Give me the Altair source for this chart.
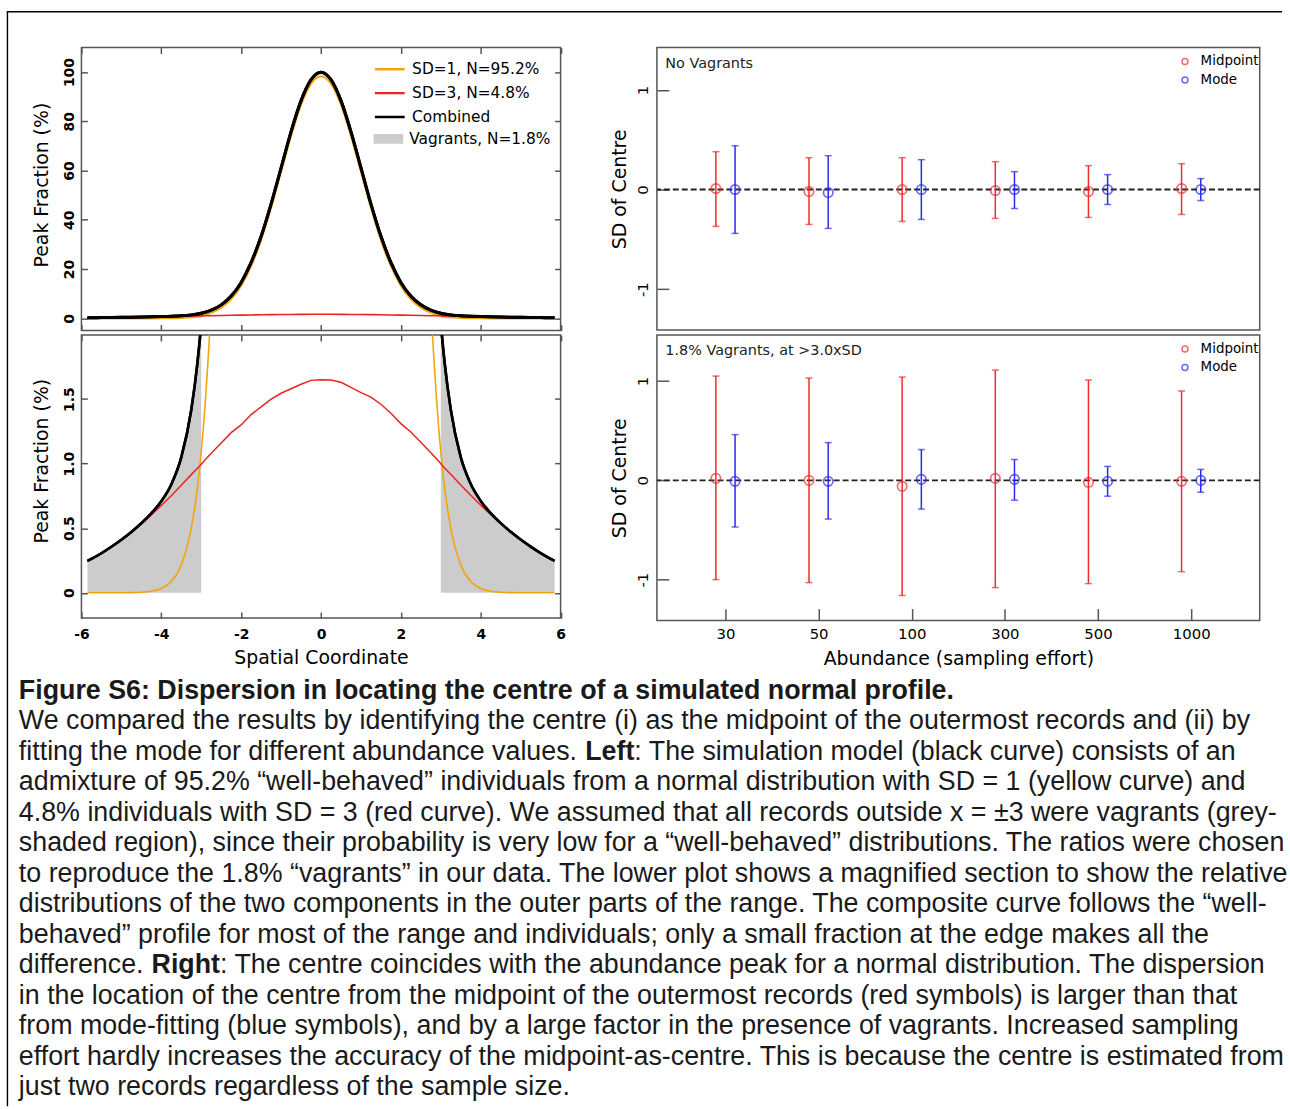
import json
import altair as alt
import pandas as pd

# ------------------------------------------------------------------ data
x_coord = [-5.85, -5.75, -5.5, -5.25, -5.0, -4.75, -4.5, -4.25, -4.0, -3.75, -3.5, -3.25, -3.1,
           -3.0, -2.9, -2.75, -2.5, -2.25, -2.0, -1.75, -1.5, -1.25, -1.0, -0.75, -0.5, -0.25,
           0.0,
           0.25, 0.5, 0.75, 1.0, 1.25, 1.5, 1.75, 2.0, 2.25, 2.5, 2.75, 2.9, 3.0,
           3.1, 3.25, 3.5, 3.75, 4.0, 4.25, 4.5, 4.75, 5.0, 5.25, 5.5, 5.75, 5.85]
sd1_curve = [0, 0, 0, 0, 0.0004, 0.0012, 0.004, 0.012, 0.033, 0.087, 0.215, 0.50, 0.805,
             1.09, 1.47, 2.24, 4.32, 7.82, 13.3, 21.3, 31.9, 45.0, 59.6, 74.2, 86.8, 95.3,
             98.3,
             95.3, 86.8, 74.2, 59.6, 45.0, 31.9, 21.3, 13.3, 7.82, 4.32, 2.24, 1.47, 1.09,
             0.805, 0.50, 0.215, 0.087, 0.033, 0.012, 0.004, 0.0012, 0.0004, 0, 0, 0, 0]
sd3_curve = [0.246, 0.262, 0.306, 0.356, 0.411, 0.470, 0.534, 0.603, 0.676, 0.752, 0.833, 0.915, 0.962,
             0.995, 1.03, 1.08, 1.16, 1.24, 1.30, 1.38, 1.44, 1.50, 1.545, 1.58, 1.615, 1.645,
             1.65,
             1.648, 1.63, 1.59, 1.55, 1.515, 1.46, 1.39, 1.31, 1.245, 1.165, 1.085, 1.035, 1.0,
             0.965, 0.918, 0.835, 0.755, 0.678, 0.604, 0.535, 0.471, 0.412, 0.357, 0.307, 0.263, 0.247]
combined_curve = [0.246, 0.262, 0.306, 0.356, 0.411, 0.471, 0.538, 0.615, 0.709, 0.839, 1.048, 1.415, 1.767,
                  2.085, 2.50, 3.32, 5.48, 9.06, 14.6, 22.7, 33.3, 46.5, 61.1, 75.8, 88.4, 96.9,
                  99.95,
                  96.9, 88.4, 75.8, 61.2, 46.5, 33.4, 22.7, 14.6, 9.07, 5.49, 3.33, 2.50, 2.09,
                  1.77, 1.418, 1.05, 0.842, 0.711, 0.616, 0.539, 0.472, 0.412, 0.357, 0.307, 0.263, 0.247]
curve_labels = ["SD=1, N=95.2%", "SD=3, N=4.8%", "Combined"]
vagrant_label = "Vagrants, N=1.8%"
vagrant_cut = 3.0

abundance = ["30", "50", "100", "300", "500", "1000"]
series_names = ["Midpoint", "Mode"]
panel_titles = ["No Vagrants", "1.8% Vagrants, at >3.0xSD"]

nv_mid_centre = [0.01, -0.02, 0.0, -0.01, -0.02, 0.01]
nv_mid_hi = [0.38, 0.32, 0.32, 0.28, 0.24, 0.26]
nv_mid_lo = [-0.37, -0.35, -0.32, -0.29, -0.28, -0.25]
nv_mode_centre = [0.0, -0.03, 0.0, 0.0, 0.0, 0.0]
nv_mode_hi = [0.44, 0.34, 0.30, 0.18, 0.15, 0.11]
nv_mode_lo = [-0.44, -0.39, -0.30, -0.19, -0.15, -0.11]

vg_mid_centre = [0.02, 0.0, -0.06, 0.02, -0.02, -0.01]
vg_mid_hi = [1.05, 1.03, 1.04, 1.11, 1.01, 0.90]
vg_mid_lo = [-1.0, -1.03, -1.16, -1.08, -1.04, -0.92]
vg_mode_centre = [-0.01, -0.01, 0.01, 0.01, -0.01, 0.0]
vg_mode_hi = [0.46, 0.38, 0.31, 0.21, 0.14, 0.11]
vg_mode_lo = [-0.47, -0.39, -0.29, -0.20, -0.16, -0.12]

caption_segments = [
    [("Figure S6: Dispersion in locating the centre of a simulated normal profile.", True)],
    [("We compared the results by identifying the centre (i) as the midpoint of the outermost records and (ii) by", False)],
    [("fitting the mode for different abundance values. ", False), ("Left", True),
     (": The simulation model (black curve) consists of an", False)],
    [("admixture of 95.2% \u201cwell-behaved\u201d individuals from a normal distribution with SD = 1 (yellow curve) and", False)],
    [("4.8% individuals with SD = 3 (red curve). We assumed that all records outside x = \u00b13 were vagrants (grey-", False)],
    [("shaded region), since their probability is very low for a \u201cwell-behaved\u201d distributions. The ratios were chosen", False)],
    [("to reproduce the 1.8% \u201cvagrants\u201d in our data. The lower plot shows a magnified section to show the relative", False)],
    [("distributions of the two components in the outer parts of the range. The composite curve follows the \u201cwell-", False)],
    [("behaved\u201d profile for most of the range and individuals; only a small fraction at the edge makes all the", False)],
    [("difference. ", False), ("Right", True),
     (": The centre coincides with the abundance peak for a normal distribution. The dispersion", False)],
    [("in the location of the centre from the midpoint of the outermost records (red symbols) is larger than that", False)],
    [("from mode-fitting (blue symbols), and by a large factor in the presence of vagrants. Increased sampling", False)],
    [("effort hardly increases the accuracy of the midpoint-as-centre. This is because the centre is estimated from", False)],
    [("just two records regardless of the sample size.", False)],
]

# ------------------------------------------------------------------ layout / style
FIG_W, FIG_H = 1290, 1109
ORIGIN_X, ORIGIN_Y = 81, 43          # top-left corner of the upper-left plot box
W_LEFT, W_RIGHT = 482.5, 607
H_LT, H_LB = 285, 285
H_RT, H_RB = 284.5, 287.5
GAP_V, GAP_H = 4.5, 96.5
CAP_LEFT = 18
CAP_FIRST, CAP_STEP = 699, 30.7
INLINE_X = {(2, 1): 588.3, (2, 2): 637.8, (9, 1): 151.6, (9, 2): 220.6}
DODGE = 0.103

FONT = "DejaVu Sans"
CAP_FONT = "Liberation Sans"
BOX = "#555555"
YELLOW, RED, BLACK, GREY = "#F2A30F", "#EE2222", "#000000", "#CCCCCC"
MID_RED, MODE_BLUE = "#F22A2A", "#2A2AF2"
TXT = "#1a1a1a"


def make_axis(orient, values, tick, labels=True, title="", label_size=15, label_pad=5, **extra):
    kw = dict(orient=orient, values=values, offset=-tick, tickSize=tick, tickWidth=1.5,
              tickColor=BOX, domain=False, grid=False, labels=labels, title=title,
              labelFont=FONT, labelFontSize=label_size, labelColor="black", labelPadding=label_pad,
              labelFlush=False, labelOverlap=False,
              titleFont=FONT, titleFontSize=19, titleFontWeight="normal", titleColor="black")
    kw.update({k: v for k, v in extra.items() if v is not None})
    return alt.Axis(**kw)


X_LABEL_EXPR = "datum.value < 0 ? '-' + (-datum.value) : '' + datum.value"

# ------------------------------------------------------------------ left panels
curves = pd.DataFrame({"x": x_coord, "sd1": sd1_curve, "sd3": sd3_curve, "comb": combined_curve})
vag = curves[curves["x"].abs() >= vagrant_cut].copy()
vag["side"] = ["L" if v < 0 else "R" for v in vag["x"]]
vag["label"] = vagrant_label
vag = vag.rename(columns={"comb": "y"})[["x", "y", "side", "label"]]


def series_df(col, label):
    return pd.DataFrame({"x": curves["x"], "y": curves[col], "series": label})


def left_panel(ydom, yvals, ylabel_expr, xlabels, legend, title_y, widths):
    xsc = alt.Scale(domain=[-6, 6], nice=False, zero=False)
    ysc = alt.Scale(domain=ydom, nice=False, zero=False)
    xvals = [-6, -4, -2, 0, 2, 4, 6]
    ax_bottom = make_axis("bottom", xvals, 6, labels=xlabels,
                          title="Spatial Coordinate" if xlabels else "",
                          labelExpr=X_LABEL_EXPR, label_pad=10, label_size=14,
                          labelFontWeight="bold", labelBaseline="top",
                          titleY=51.8, titleBaseline="alphabetic")
    ax_left = make_axis("left", yvals, 6, title="Peak Fraction (%)", labelExpr=ylabel_expr,
                        label_pad=5, label_size=14, labelFontWeight="bold",
                        labelAngle=270, labelAlign="center", labelBaseline="bottom",
                        titleX=-36, titleY=title_y, titleAngle=270, titleAlign="center",
                        titleBaseline="bottom")
    ax_top = make_axis("top", xvals, 6, labels=False)
    ax_right = make_axis("right", yvals, 6, labels=False)

    cscale = alt.Scale(domain=curve_labels, range=[YELLOW, RED, BLACK])
    fscale = alt.Scale(domain=[vagrant_label], range=[GREY])
    if legend:
        line_leg = alt.Legend(orient="none", legendX=294, legendY=13.8, title=None,
                              symbolType="stroke", symbolSize=900, symbolStrokeWidth=2.5,
                              labelFont=FONT, labelFontSize=15.5, labelColor="black",
                              labelOffset=6, clipHeight=16, rowPadding=7.1, padding=0)
        fill_leg = alt.Legend(orient="none", legendX=294, legendY=84, title=None,
                              symbolType="M-1,-0.33H1V0.33H-1Z", symbolSize=900,
                              symbolStrokeWidth=0, labelFont=FONT, labelFontSize=15.5,
                              labelColor="black", labelOffset=6, clipHeight=16, padding=0)
    else:
        line_leg = None
        fill_leg = None

    area = alt.Chart(vag).mark_area(clip=True, interpolate="monotone").encode(
        x=alt.X("x:Q", scale=xsc, axis=ax_bottom),
        y=alt.Y("y:Q", scale=ysc, axis=ax_left),
        y2=alt.datum(0),
        detail="side:N",
        fill=alt.Fill("label:N", scale=fscale, legend=fill_leg),
    )

    def line(col, label, width, interp, axes=None):
        xa, ya = (axes if axes else (None, None))
        return alt.Chart(series_df(col, label)).mark_line(
            clip=True, interpolate=interp, strokeWidth=width).encode(
            x=alt.X("x:Q", scale=xsc, axis=xa),
            y=alt.Y("y:Q", scale=ysc, axis=ya),
            color=alt.Color("series:N", scale=cscale, legend=line_leg),
        )

    return [
        area,
        line("sd1", curve_labels[0], widths[0], "monotone"),
        line("sd3", curve_labels[1], widths[1], "linear"),
        line("comb", curve_labels[2], widths[2], "monotone"),
        line("comb", curve_labels[2], widths[2], "monotone", axes=(ax_top, ax_right)),
    ]


# ------------------------------------------------------------------ caption + frame (overlaid,
# positioned relative to the upper-left plot box, which is the layout origin)
one = pd.DataFrame({"a": [0]})
overlay = []
overlay.append(alt.Chart(one).mark_rect(opacity=0).encode(
    x=alt.value(-ORIGIN_X), x2=alt.value(FIG_W - ORIGIN_X),
    y=alt.value(-ORIGIN_Y), y2=alt.value(FIG_H - ORIGIN_Y)))
overlay.append(alt.Chart(one).mark_rule(color="black", strokeWidth=1.4).encode(
    x=alt.value(6.5 - ORIGIN_X), y=alt.value(7 - ORIGIN_Y), y2=alt.value(FIG_H - ORIGIN_Y)))
overlay.append(alt.Chart(one).mark_rule(color="black", strokeWidth=1.4).encode(
    x=alt.value(5.8 - ORIGIN_X), x2=alt.value(FIG_W - ORIGIN_X), y=alt.value(7 - ORIGIN_Y)))
for li, segs in enumerate(caption_segments):
    for si, (txt, bold) in enumerate(segs):
        xpos = INLINE_X.get((li, si), CAP_LEFT)
        ypos = CAP_FIRST + CAP_STEP * li
        overlay.append(alt.Chart(pd.DataFrame({"t": [txt]})).mark_text(
            align="left", baseline="alphabetic", font=CAP_FONT, fontSize=27, color=TXT,
            fontWeight="bold" if bold else "normal").encode(
            x=alt.value(xpos - ORIGIN_X), y=alt.value(ypos - ORIGIN_Y), text="t:N"))

lt = alt.layer(*left_panel([-4.96, 109.96], [0, 20, 40, 60, 80, 100], None, False, True, 138,
                           (2.2, 1.6, 3.0)), *overlay).resolve_axis(
    x="independent", y="independent").properties(width=W_LEFT, height=H_LT)
lb = alt.layer(*left_panel([-0.196, 1.996], [0, 0.5, 1.0, 1.5],
                           "datum.value == 0 ? '0' : format(datum.value, '.1f')", True, False,
                           126.5, (1.6, 1.5, 2.6))).resolve_axis(
    x="independent", y="independent").properties(width=W_LEFT, height=H_LB)

# ------------------------------------------------------------------ right panels


def right_rows(mid_c, mid_lo, mid_hi, mode_c, mode_lo, mode_hi):
    rows = []
    for i, a in enumerate(abundance):
        rows.append(dict(abund=a, pos=i + 1 - DODGE, series=series_names[0],
                         c=mid_c[i], lo=mid_lo[i], hi=mid_hi[i]))
        rows.append(dict(abund=a, pos=i + 1 + DODGE, series=series_names[1],
                         c=mode_c[i], lo=mode_lo[i], hi=mode_hi[i]))
    return pd.DataFrame(rows)


def right_panel(df, ydom, height, title_text, show_x):
    xsc = alt.Scale(domain=[0.264, 6.736], nice=False, zero=False)
    ysc = alt.Scale(domain=ydom, nice=False, zero=False)
    cscale = alt.Scale(domain=series_names, range=[MID_RED, MODE_BLUE])
    ax_left = make_axis("left", [-1, 0, 1], 12, title="SD of Centre", labelExpr=X_LABEL_EXPR,
                        label_pad=6, label_size=15, labelAngle=270, labelAlign="center",
                        labelBaseline="bottom", titleX=-40, titleAngle=270, titleAlign="center",
                        titleBaseline="bottom")
    if show_x:
        ax_bottom = make_axis("bottom", list(range(1, len(abundance) + 1)), 12,
                              title="Abundance (sampling effort)",
                              labelExpr=json.dumps(abundance) + "[datum.value - 1]",
                              label_pad=5.8, label_size=15, labelBaseline="top",
                              titleY=55.8, titleBaseline="alphabetic")
    else:
        ax_bottom = None
    leg = alt.Legend(orient="none", legendX=525, legendY=7.5, title=None, symbolType="circle",
                     symbolSize=36, symbolStrokeWidth=1.5, labelFont=FONT, labelFontSize=13.5,
                     labelColor="black", labelOffset=9, clipHeight=13, rowPadding=4.6, padding=0)

    zero = alt.Chart(pd.DataFrame({"z": [0]})).mark_rule(
        strokeDash=[6, 3], color="#222222", strokeWidth=1.9).encode(
        y=alt.Y("z:Q", scale=ysc, axis=ax_left))
    base = alt.Chart(df)
    bars = base.mark_rule(strokeWidth=1.5).encode(
        x=alt.X("pos:Q", scale=xsc, axis=ax_bottom),
        y=alt.Y("lo:Q", scale=ysc, axis=None), y2="hi:Q",
        color=alt.Color("series:N", scale=cscale, legend=None))
    caps_lo = base.mark_tick(orient="horizontal", size=7, thickness=1.5).encode(
        x=alt.X("pos:Q", scale=xsc, axis=None), y=alt.Y("lo:Q", scale=ysc, axis=None),
        color=alt.Color("series:N", scale=cscale, legend=None))
    caps_hi = base.mark_tick(orient="horizontal", size=7, thickness=1.5).encode(
        x=alt.X("pos:Q", scale=xsc, axis=None), y=alt.Y("hi:Q", scale=ysc, axis=None),
        color=alt.Color("series:N", scale=cscale, legend=None))
    pts = base.mark_point(filled=False, size=90, strokeWidth=1.7).encode(
        x=alt.X("pos:Q", scale=xsc, axis=None), y=alt.Y("c:Q", scale=ysc, axis=None),
        color=alt.Color("series:N", scale=cscale, legend=leg))
    label = alt.Chart(pd.DataFrame({"t": [title_text]})).mark_text(
        align="left", baseline="alphabetic", font=FONT, fontSize=14.5, color="#222222").encode(
        x=alt.value(8.5), y=alt.value(20.5), text="t:N")
    return alt.layer(zero, bars, caps_lo, caps_hi, pts, label).resolve_axis(
        x="independent", y="independent").resolve_legend(color="independent").properties(
        width=W_RIGHT, height=height)


rt = right_panel(right_rows(nv_mid_centre, nv_mid_lo, nv_mid_hi, nv_mode_centre, nv_mode_lo, nv_mode_hi),
                 [-1.411, 1.426], H_RT, panel_titles[0], False)
rb = right_panel(right_rows(vg_mid_centre, vg_mid_lo, vg_mid_hi, vg_mode_centre, vg_mode_lo, vg_mode_hi),
                 [-1.412, 1.463], H_RB, panel_titles[1], True)

# ------------------------------------------------------------------ assemble
chart = alt.concat(lt, rt, lb, rb, columns=2, bounds="flush",
                   spacing={"row": GAP_V, "column": GAP_H}).resolve_scale(
    color="independent", fill="independent").properties(
    padding=0, background="white").configure(font=FONT).configure_view(
    stroke=BOX, strokeWidth=1.5)

chart.save("out.html", embed_options={"renderer": "svg", "actions": False})
